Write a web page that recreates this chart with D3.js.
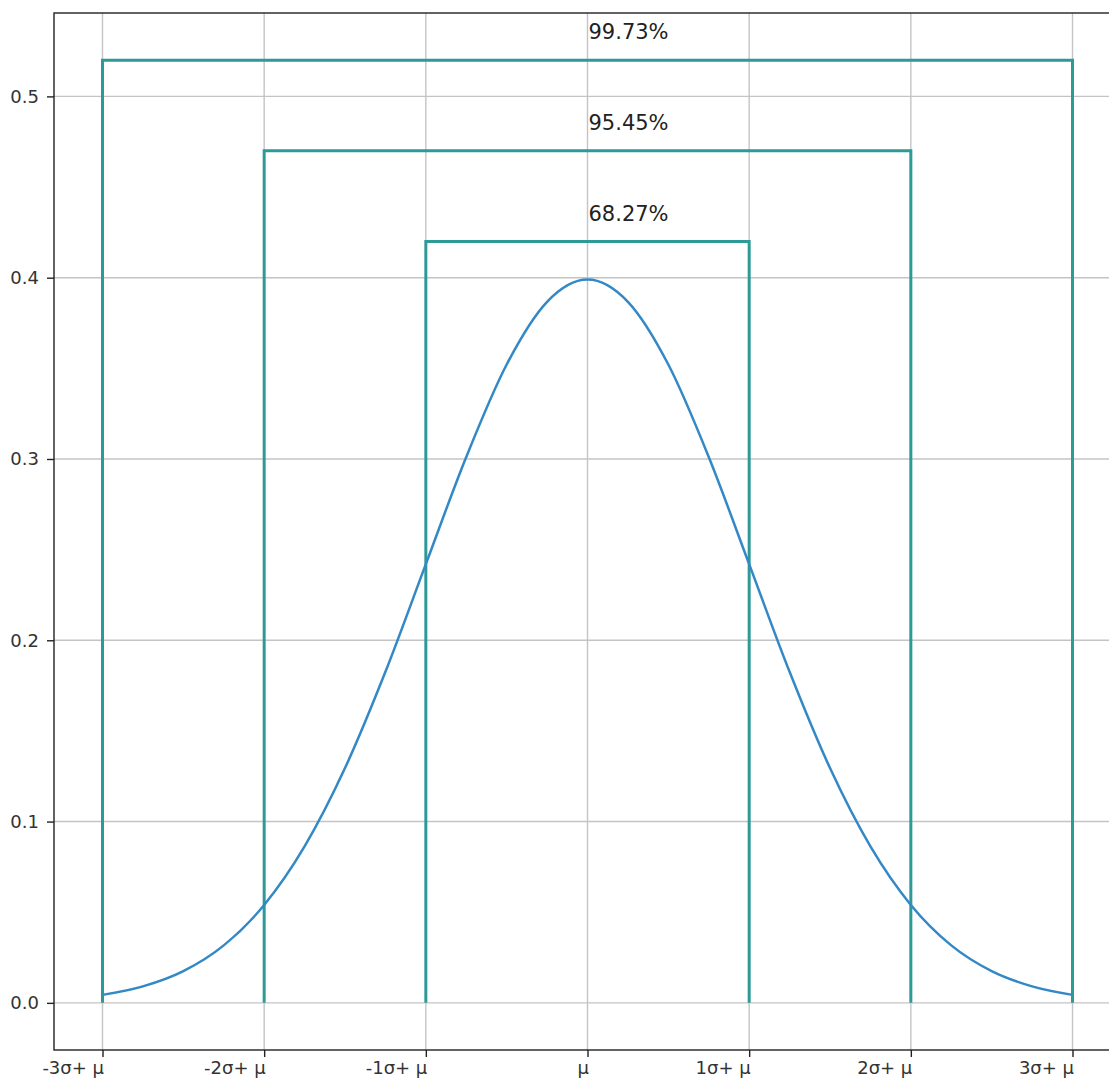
<!DOCTYPE html>
<html>
<head>
<meta charset="utf-8">
<script src="https://cdn.jsdelivr.net/npm/d3@7"></script>
<style>
  body { margin: 0; background: #fff; }
  svg { display: block; font-family: "DejaVu Sans", sans-serif; }
  .grid line { stroke: #c4c4c4; stroke-width: 1.4; }
</style>
</head>
<body>
<div id="chart"></div>
<script>
var svgWidth = 1109;
var svgHeight = 1081;

// x in units of sigma, curve heights
var curveX = [-3, -2.75, -2.5, -2.25, -2, -1.75, -1.5, -1.25, -1, -0.75, -0.5, -0.25, 0,
  0.25, 0.5, 0.75, 1, 1.25, 1.5, 1.75, 2, 2.25, 2.5, 2.75, 3];
var curveY = [0.0044, 0.0091, 0.0175, 0.0317, 0.054, 0.0863, 0.1295, 0.1826, 0.242, 0.3011, 0.3521, 0.3867, 0.399,
  0.3867, 0.3521, 0.3011, 0.242, 0.1826, 0.1295, 0.0863, 0.054, 0.0317, 0.0175, 0.0091, 0.0044];

// brackets: half width (sigmas), top height, label
var bracketK = [1, 2, 3];
var bracketTop = [0.42, 0.47, 0.52];
var bracketLabel = ["68.27%", "95.45%", "99.73%"];

var tickValues = [-3, -2, -1, 0, 1, 2, 3];
var tickLabels = ["-3σ+ μ", "-2σ+ μ", "-1σ+ μ", "μ", "1σ+ μ", "2σ+ μ", "3σ+ μ"];
var yTicks = [0, 0.1, 0.2, 0.3, 0.4, 0.5];

var margin = { top: 13, left: 54 };
var plotW = 1067; // axes run past the right edge of the picture
var plotH = 1037;

var svg = d3.select("#chart").append("svg")
  .attr("width", svgWidth)
  .attr("height", svgHeight);

var g = svg.append("g")
  .attr("transform", `translate(${margin.left}, ${margin.top})`);

var x = d3.scaleLinear().domain([-3.3, 3.3]).range([0, plotW]);
var y = d3.scaleLinear().domain([-0.026, 0.546]).range([plotH, 0]);

// grid
g.append("g").attr("class", "grid")
  .selectAll("line").data(tickValues).enter().append("line")
  .attr("x1", d => x(d)).attr("x2", d => x(d))
  .attr("y1", 0).attr("y2", plotH);
g.append("g").attr("class", "grid")
  .selectAll("line").data(yTicks).enter().append("line")
  .attr("x1", 0).attr("x2", plotW)
  .attr("y1", d => y(d)).attr("y2", d => y(d));

// brackets
var teal = "#2e9a98";
bracketK.forEach(function(k, i) {
  var pts = [[-k, 0], [-k, bracketTop[i]], [k, bracketTop[i]], [k, 0]];
  g.append("path")
    .attr("d", d3.line().x(d => x(d[0])).y(d => y(d[1]))(pts))
    .attr("fill", "none")
    .attr("stroke", teal)
    .attr("stroke-width", 3);
  g.append("text")
    .attr("x", x(0) + 1)
    .attr("y", y(bracketTop[i] + 0.0115))
    .attr("font-size", "21px")
    .attr("fill", "#222")
    .text(bracketLabel[i]);
});

// curve
var pts = curveX.map((v, i) => [v, curveY[i]]);
g.append("path")
  .attr("d", d3.line().x(d => x(d[0])).y(d => y(d[1])).curve(d3.curveMonotoneX)(pts))
  .attr("fill", "none")
  .attr("stroke", "#3388c6")
  .attr("stroke-width", 2.5);

// axes
var xAxis = d3.axisBottom(x).tickValues(tickValues)
  .tickFormat((d, i) => tickLabels[i]).tickSize(7).tickPadding(4);
var yAxis = d3.axisLeft(y).tickValues(yTicks)
  .tickFormat(d3.format(".1f")).tickSize(7).tickPadding(8);

var gx = g.append("g").attr("transform", `translate(0, ${plotH})`).call(xAxis);
var gy = g.append("g").call(yAxis);
[gx, gy].forEach(function(a) {
  a.select(".domain").remove();
  a.selectAll("line").attr("stroke", "#222").attr("stroke-width", 1.4);
  a.selectAll("text").attr("font-size", "18px").attr("fill", "#333")
    .style("font-family", "DejaVu Sans, sans-serif");
});
// x labels sit right-aligned on their ticks
gx.selectAll("text").attr("text-anchor", "end").attr("dx", "1px");

// frame
g.append("rect")
  .attr("x", 0).attr("y", 0)
  .attr("width", plotW).attr("height", plotH)
  .attr("fill", "none")
  .attr("stroke", "#222")
  .attr("stroke-width", 1.4);
</script>
</body>
</html>
